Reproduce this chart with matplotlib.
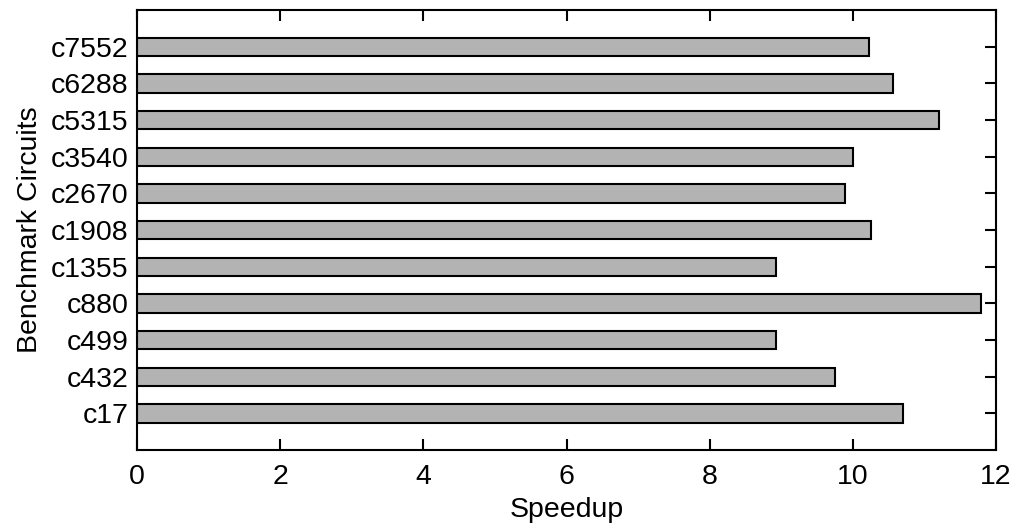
import numpy as np
import matplotlib
matplotlib.use("Agg")
from matplotlib import pyplot as plt

# data
circuits = ["c17", "c432", "c499", "c880", "c1355", "c1908",
            "c2670", "c3540", "c5315", "c6288", "c7552"]
speedup = [10.70, 9.75, 8.93, 11.79, 8.93, 10.25,
           9.89, 10.00, 11.20, 10.56, 10.23]
xticks = [0, 2, 4, 6, 8, 10, 12]

plt.rcParams['font.family'] = ['Liberation Sans', 'DejaVu Sans']

fig = plt.figure(figsize=(10.24, 5.31), dpi=100)
ax = fig.add_axes([0.1338, 0.1525, 0.8389, 0.8285])

pos = np.arange(1, len(circuits) + 1)
ax.barh(pos, speedup, height=0.5, color="#b3b3b3",
        edgecolor="black", linewidth=1.5, zorder=2)

ax.set_xlim(0, 12)
ax.set_ylim(0, 12)
ax.set_xticks(xticks)
ax.set_yticks(pos)
ax.set_yticklabels(circuits)

ax.tick_params(direction="in", length=8, width=1.5, labelsize=20.5,
               top=True, right=True)
ax.tick_params(axis="y", pad=6)
ax.tick_params(axis="x", pad=10)
for s in ax.spines.values():
    s.set_linewidth(1.5)

ax.set_xlabel("Speedup", fontsize=20.5, labelpad=5)
ax.set_ylabel("Benchmark Circuits", fontsize=20.5, labelpad=6)

fig.savefig("out.png", dpi=100)
